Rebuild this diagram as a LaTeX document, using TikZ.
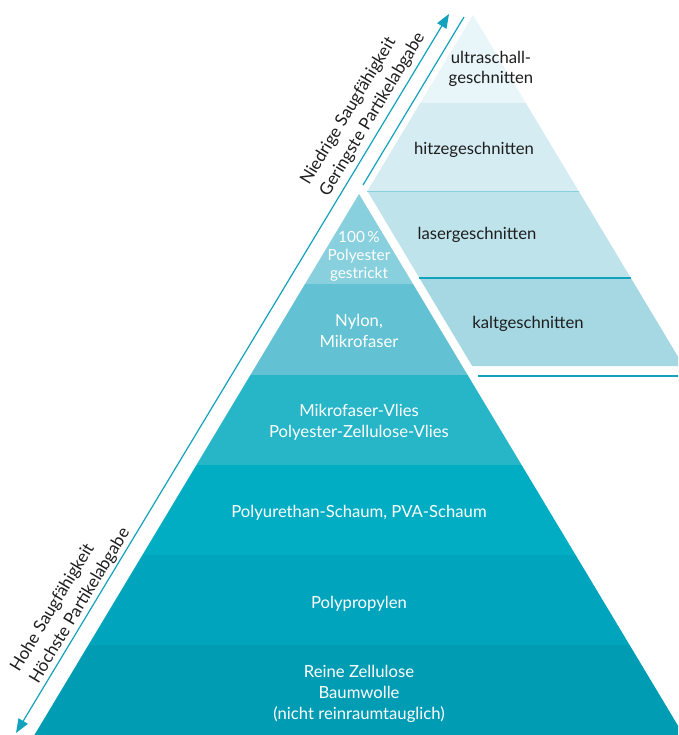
\documentclass[tikz,border=0pt]{standalone}
\usepackage{fontspec}
\setmainfont{Lato}
\definecolor{mainA}{HTML}{88D0DD}
\definecolor{mainB}{HTML}{62C1D3}
\definecolor{mainC}{HTML}{27B5C8}
\definecolor{mainD}{HTML}{00ADC3}
\definecolor{mainE}{HTML}{00A5BD}
\definecolor{mainF}{HTML}{009CB4}
\definecolor{cutA}{HTML}{E8F5F9}
\definecolor{cutB}{HTML}{D5ECF2}
\definecolor{cutC}{HTML}{BEE3EB}
\definecolor{cutD}{HTML}{A5D8E3}
\definecolor{tealline}{HTML}{12A2BB}
\definecolor{inktext}{HTML}{1E1E1E}
\tikzset{
  mainlbl/.style={text=white,align=center,inner sep=0.75pt,font=\fontsize{12.5}{16}\selectfont},
  cutlbl/.style={text=inktext,align=center,inner sep=0.75pt,font=\fontsize{12.5}{14.5}\selectfont},
  sidelbl/.style={text=inktext,align=left,inner sep=0.75pt,rotate=58.9,font=\fontsize{12.8}{16.8}\selectfont}
}
\begin{document}
\begin{tikzpicture}[x=0.75pt,y=0.75pt,yscale=-1,xscale=1]
\useasboundingbox (0,0) rectangle (678,735);
\clip (0,0) rectangle (678,735);
% main pyramid
\fill [mainA] (359,194) -- (413,284) -- (305,284) -- cycle ;
\fill [mainB] (305,284) -- (413,284) -- (467.6,375) -- (250.4,375) -- cycle ;
\fill [mainC] (250.4,375) -- (467.6,375) -- (521.6,465) -- (196.4,465) -- cycle ;
\fill [mainD] (196.4,465) -- (521.6,465) -- (575.6,555) -- (142.4,555) -- cycle ;
\fill [mainE] (142.4,555) -- (575.6,555) -- (629.6,645) -- (88.4,645) -- cycle ;
\fill [mainF] (88.4,645) -- (629.6,645) -- (683.6,735) -- (34.4,735) -- cycle ;
% cut pyramid
\fill [cutA] (473,15) -- (525.8,103) -- (420.2,103) -- cycle ;
\fill [cutB] (420.2,103) -- (525.8,103) -- (578.6,191) -- (367.4,191) -- cycle ;
\fill [cutC] (367.4,191) -- (578.6,191) -- (630.8,278) -- (419.4,278) -- cycle ;
\fill [cutD] (419.4,278) -- (630.8,278) -- (683.6,366) -- (472.2,366) -- cycle ;
\draw [color=mainA,line width=0.75] (367.4,191) -- (578.6,191) ;
\draw [color=tealline,line width=1] (419.4,278) -- (630.8,278) ;
\draw [color=tealline,line width=1.5] (478,376) -- (690,376) ;
\draw [color=tealline,line width=0.9] (363,185) -- (464,17) ;
% arrow
\coordinate (lo) at (16,733) ;
\coordinate (hi) at (449,14) ;
\draw [color=tealline,line width=0.9,shorten <=3pt,shorten >=3pt] (lo) -- (hi) ;
\draw [shift={(449,14)}, rotate = 121.06] [fill=tealline][line width=0.08][draw opacity=0] (14,-5.5) -- (0,0) -- (14,5.5) -- cycle ;
\draw [shift={(16,733)}, rotate = -58.94] [fill=tealline][line width=0.08][draw opacity=0] (14,-5.5) -- (0,0) -- (14,5.5) -- cycle ;
\node (lowabs) [sidelbl] at (70.5,600) {Hohe Saugfähigkeit\\Höchste Partikelabgabe};
\node (highabs) [sidelbl] at (363,109) {Niedrige Saugfähigkeit\\Geringste Partikelabgabe};
% labels
\node (strick) [mainlbl,font=\fontsize{11.5}{13.5}\selectfont] at (359,256) {100\,\%\\Polyester\\gestrickt};
\node (nylon) [mainlbl] at (359,331) {Nylon,\\Mikrofaser};
\node (vlies) [mainlbl] at (359,422) {Mikrofaser-Vlies\\Polyester-Zellulose-Vlies};
\node (schaum) [mainlbl] at (359,513) {Polyurethan-Schaum, PVA-Schaum};
\node (propyl) [mainlbl] at (359,604) {Polypropylen};
\node (zellu) [mainlbl] at (359,694) {Reine Zellulose\\Baumwolle\\(nicht reinraumtauglich)};
\node (ultra) [cutlbl] at (491,69) {ultraschall-\\geschnitten};
\node (hitze) [cutlbl] at (474,150) {hitzegeschnitten};
\node (laser) [cutlbl] at (477,235) {lasergeschnitten};
\node (kalt) [cutlbl] at (528,324) {kaltgeschnitten};
\end{tikzpicture}
\end{document}
